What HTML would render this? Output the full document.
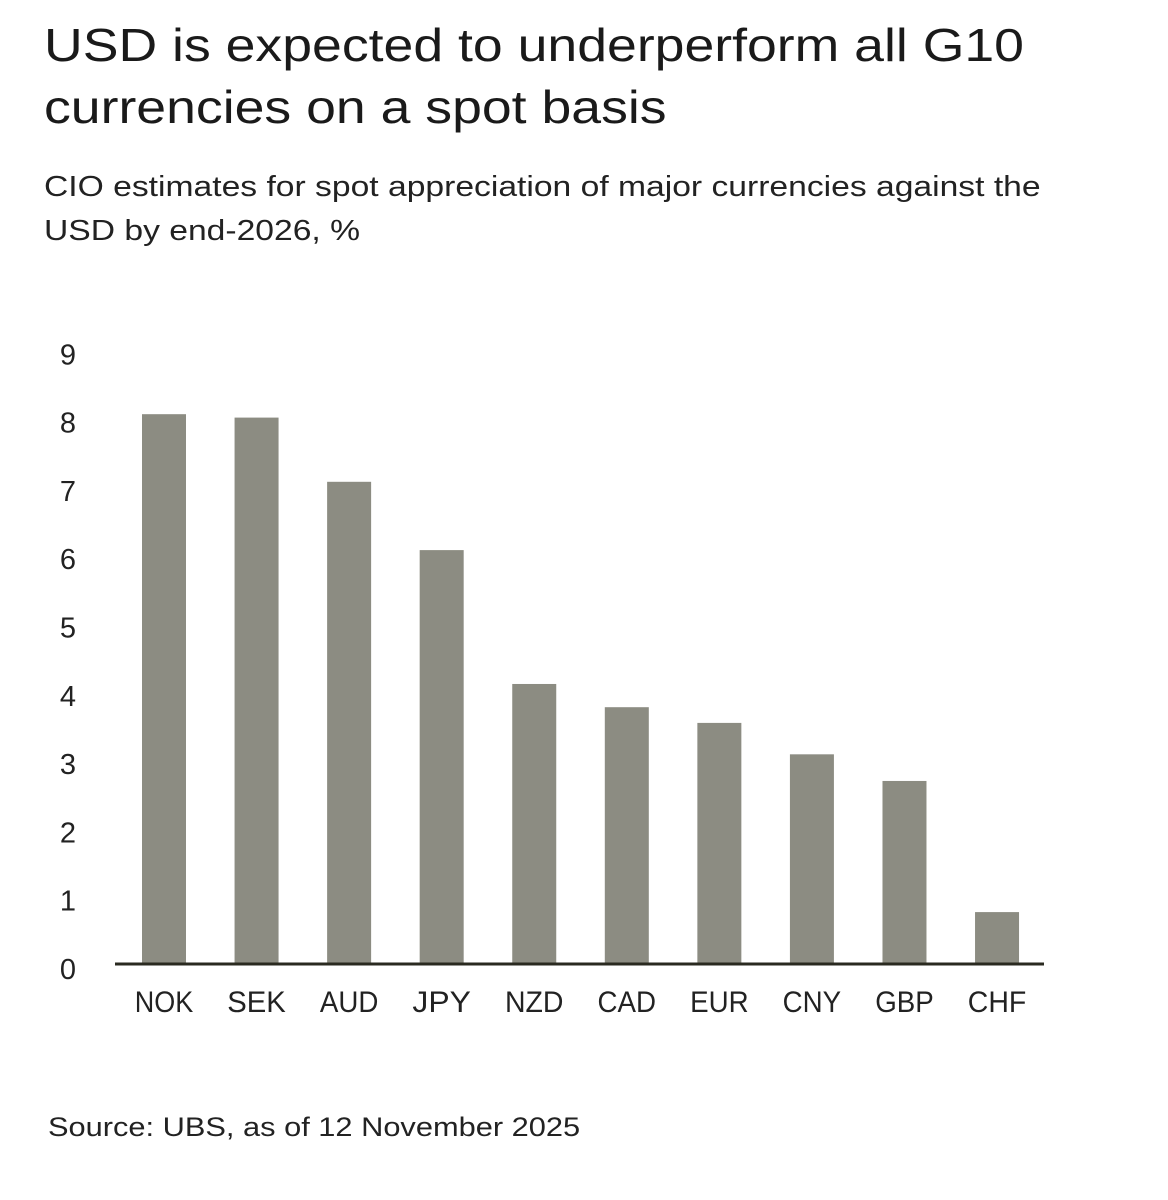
<!DOCTYPE html>
<html><head><meta charset="utf-8"><style>
body{margin:0;background:#fff;width:1168px;height:1200px;overflow:hidden;font-family:"Liberation Sans",sans-serif;color:#1a1a1a}
.t{position:absolute;left:44px;top:14px;font-size:46px;line-height:62px;transform:scaleX(1.165);transform-origin:0 0;white-space:nowrap}
.s{position:absolute;left:44px;top:165px;font-size:29px;line-height:44px;color:#222;transform:scaleX(1.16);transform-origin:0 0;white-space:nowrap}
.src{position:absolute;left:48px;top:1112px;font-size:27px;color:#222;transform:scaleX(1.14);transform-origin:0 0;white-space:nowrap}
svg{position:absolute;left:0;top:0}
</style></head><body>
<div class="t">USD is expected to underperform all G10<br>currencies on a spot basis</div>
<div class="s">CIO estimates for spot appreciation of major currencies against the<br>USD by end-2026, %</div>
<svg id="c" width="1168" height="1200"></svg>
<div class="src">Source: UBS, as of 12 November 2025</div>
<script>
const categories=["NOK","SEK","AUD","JPY","NZD","CAD","EUR","CNY","GBP","CHF"];
const values=[8.05,8.0,7.06,6.06,4.1,3.76,3.53,3.07,2.68,0.76];
const ticks=[0,1,2,3,4,5,6,7,8,9];
const svg=document.getElementById('c');const NS='http://www.w3.org/2000/svg';
const y=v=>964-68.3*v;const x=i=>164+92.56*i;
function mk(t,a){const e=document.createElementNS(NS,t);for(const k in a)e.setAttribute(k,a[k]);svg.appendChild(e);return e;}
ticks.forEach(v=>{const e=mk('text',{x:68,y:y(v)+15,'text-anchor':'middle','font-size':29,fill:'#222'});e.textContent=v;

});
values.forEach((v,i)=>{const r=mk('rect',{x:x(i)-22,y:y(v),width:44,height:964-y(v),fill:'#8c8c82'});


const t=mk('text',{x:x(i),y:1012,'text-anchor':'middle','font-size':30,fill:'#222','textLength':categories[i].length*19.5,'lengthAdjust':'spacingAndGlyphs'});t.textContent=categories[i];

});
const a=mk('line',{x1:115,x2:1044,y1:964,y2:964,stroke:'#2a2a20','stroke-width':3});


</script>
</body></html>
